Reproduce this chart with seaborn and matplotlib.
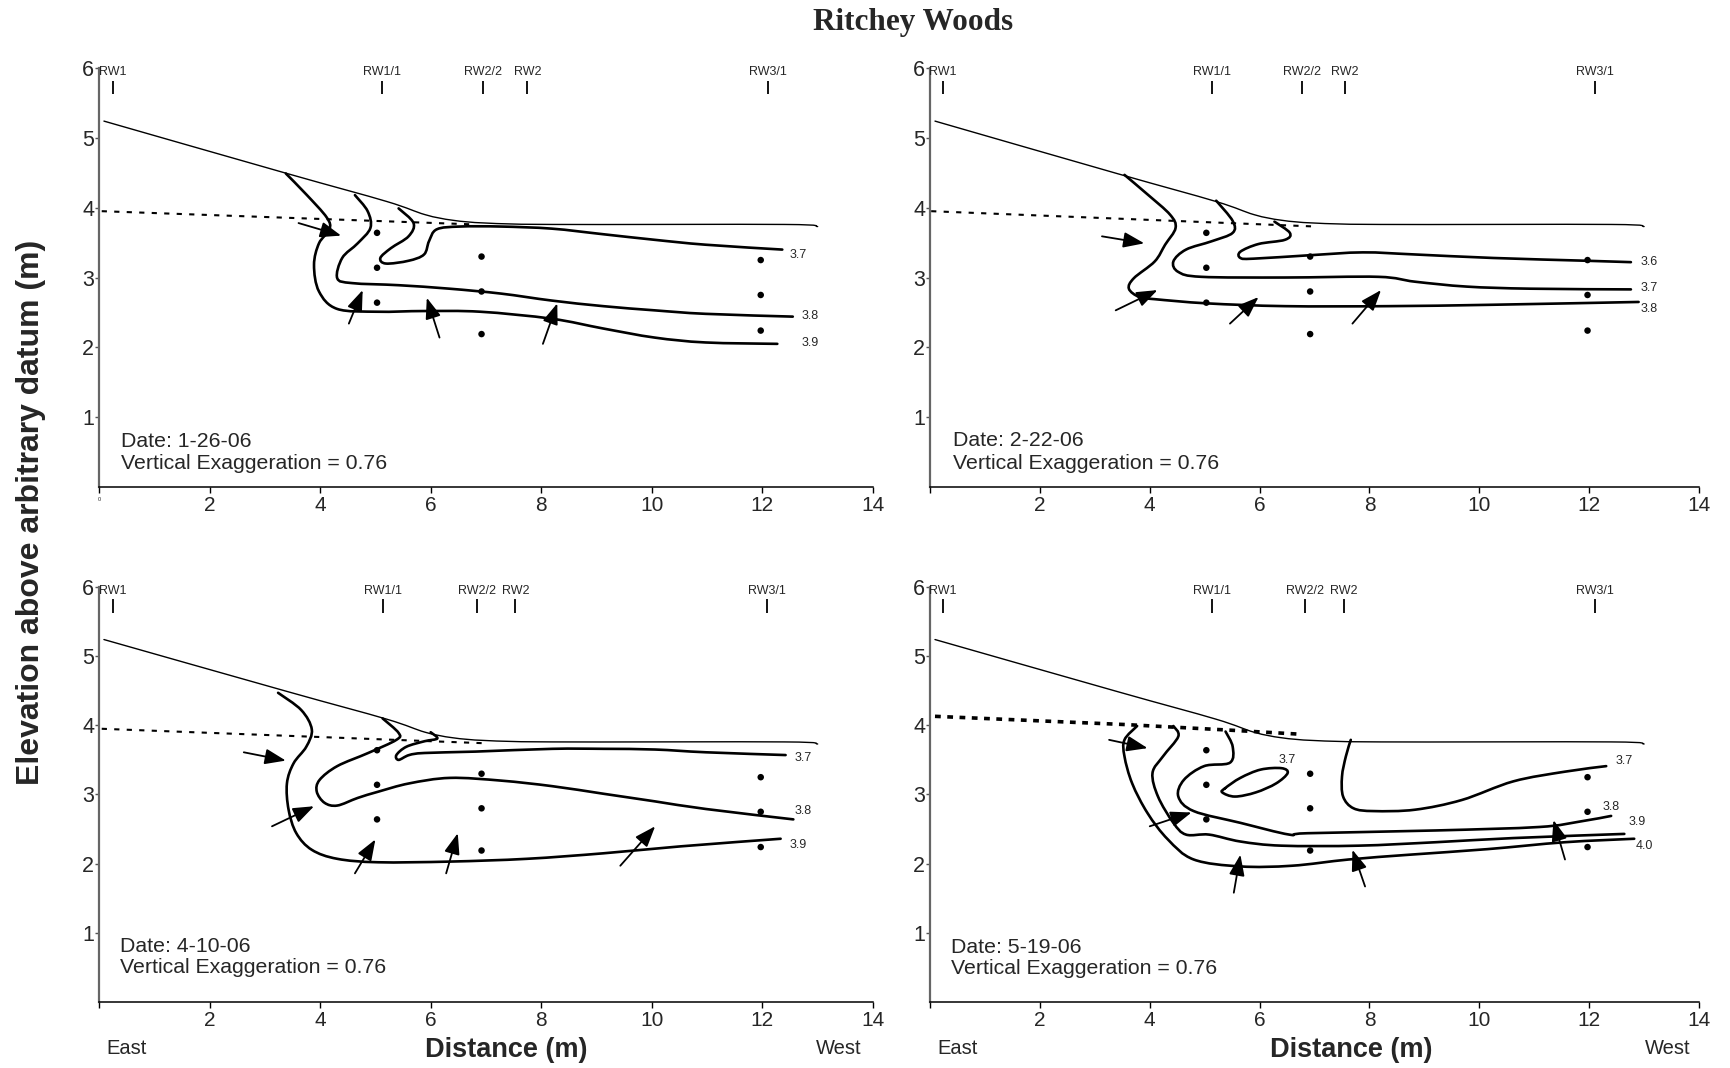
import numpy as np
import matplotlib
matplotlib.use("Agg")
import matplotlib.pyplot as plt
from matplotlib.path import Path
from matplotlib.patches import PathPatch
import seaborn as sns

# ---------------------------------------------------------------- data
# ground surface profile along the transect (m)
ground_x = [0.09, 3.40, 5.20, 5.90, 6.40, 7.00, 8.20, 12.40, 13.00]
ground_y = [5.24, 4.49, 4.09, 3.90, 3.82, 3.78, 3.76, 3.76, 3.73]

# piezometer screen positions
piezo_x = [5.03, 5.03, 5.03, 6.92, 6.92, 6.92, 11.97, 11.97, 11.97]
piezo_y = [3.64, 3.14, 2.64, 3.30, 2.80, 2.19, 3.25, 2.75, 2.24]

well_names = ["RW1", "RW1/1", "RW2/2", "RW2", "RW3/1"]

dates = ["1-26-06", "2-22-06", "4-10-06", "5-19-06"]

# well locations per survey
wells_1 = [0.25, 5.12, 6.94, 7.75, 12.10]
wells_2 = [0.23, 5.13, 6.77, 7.55, 12.11]
wells_3 = [0.25, 5.13, 6.84, 7.53, 12.09]
wells_4 = [0.23, 5.13, 6.82, 7.54, 12.10]

# water table
wt_1_x, wt_1_y = [0.05, 6.80], [3.95, 3.76]
wt_2_x, wt_2_y = [0.02, 7.03], [3.95, 3.73]
wt_3_x, wt_3_y = [0.05, 7.00], [3.95, 3.74]
wt_4_x, wt_4_y = [0.09, 3.58, 5.46, 6.77], [4.13, 4.01, 3.93, 3.87]

# equipotential lines, 1-26-06
c1_37_x = [5.42, 5.69, 5.60, 5.28, 5.09, 5.19, 5.60, 5.88, 5.97, 6.11, 6.53, 7.27, 8.19, 9.12, 10.05, 10.97, 12.36]
c1_37_y = [3.99, 3.78, 3.59, 3.42, 3.28, 3.20, 3.24, 3.33, 3.52, 3.69, 3.73, 3.73, 3.70, 3.62, 3.54, 3.47, 3.40]
c1_38_x = [4.63, 4.86, 4.91, 4.68, 4.40, 4.31, 4.58, 5.42, 6.34, 7.27, 8.19, 9.12, 10.05, 10.97, 12.55]
c1_38_y = [4.18, 3.95, 3.71, 3.49, 3.28, 2.99, 2.92, 2.89, 2.84, 2.77, 2.67, 2.59, 2.53, 2.48, 2.44]
c1_39_x = [3.38, 3.75, 4.12, 4.17, 3.98, 3.89, 3.98, 4.31, 5.05, 5.88, 6.90, 8.19, 9.12, 10.05, 10.97, 12.27]
c1_39_y = [4.49, 4.19, 3.86, 3.69, 3.49, 3.18, 2.80, 2.55, 2.51, 2.52, 2.51, 2.41, 2.27, 2.14, 2.07, 2.05]

# equipotential lines, 2-22-06
c2_36_x = [6.27, 6.55, 6.46, 5.98, 5.65, 5.65, 5.89, 6.93, 7.88, 8.83, 10.25, 11.95, 12.76]
c2_36_y = [3.80, 3.64, 3.54, 3.48, 3.37, 3.28, 3.27, 3.32, 3.36, 3.33, 3.28, 3.24, 3.22]
c2_37_x = [5.21, 5.51, 5.51, 5.13, 4.66, 4.43, 4.52, 4.94, 6.46, 8.16, 8.83, 9.77, 10.93, 12.76]
c2_37_y = [4.10, 3.81, 3.64, 3.52, 3.40, 3.23, 3.08, 3.01, 3.00, 3.01, 2.94, 2.87, 2.84, 2.83]
c2_38_x = [3.54, 3.96, 4.37, 4.47, 4.28, 4.09, 3.71, 3.62, 3.81, 4.09, 5.04, 6.46, 8.35, 10.25, 12.90]
c2_38_y = [4.47, 4.19, 3.90, 3.71, 3.47, 3.23, 2.99, 2.84, 2.72, 2.69, 2.63, 2.59, 2.59, 2.61, 2.65]

# equipotential lines, 4-10-06
c3_37_x = [6.00, 6.12, 5.89, 5.56, 5.38, 5.42, 5.61, 5.89, 6.81, 8.20, 9.13, 10.06, 10.98, 12.42]
c3_37_y = [3.90, 3.81, 3.77, 3.69, 3.57, 3.50, 3.57, 3.60, 3.62, 3.66, 3.66, 3.65, 3.61, 3.57]
c3_38_x = [5.13, 5.42, 5.38, 4.87, 4.31, 3.99, 3.94, 4.08, 4.31, 4.68, 5.05, 5.61, 6.35, 7.28, 8.20, 9.13, 10.06, 10.98, 12.56]
c3_38_y = [4.10, 3.89, 3.79, 3.60, 3.41, 3.21, 3.04, 2.88, 2.84, 2.95, 3.04, 3.16, 3.24, 3.20, 3.12, 3.01, 2.90, 2.79, 2.64]
c3_39_x = [3.24, 3.66, 3.85, 3.75, 3.52, 3.40, 3.43, 3.57, 3.85, 4.31, 5.05, 6.35, 7.74, 9.13, 10.52, 12.33]
c3_39_y = [4.47, 4.22, 3.94, 3.69, 3.45, 3.16, 2.78, 2.44, 2.20, 2.07, 2.02, 2.03, 2.07, 2.15, 2.25, 2.36]

# equipotential lines, 5-19-06
c4_37a_x = [5.37, 5.65, 6.02, 6.40, 6.51, 6.30, 5.93, 5.55, 5.32]
c4_37a_y = [3.09, 3.24, 3.36, 3.38, 3.31, 3.16, 3.03, 2.97, 3.03]
c4_37b_x = [7.66, 7.57, 7.50, 7.52, 7.71, 8.08, 8.83, 9.68, 10.62, 11.56, 12.31]
c4_37b_y = [3.79, 3.55, 3.26, 2.97, 2.80, 2.76, 2.78, 2.92, 3.19, 3.33, 3.41]
c4_38_x = [5.38, 5.51, 5.46, 4.99, 4.62, 4.52, 4.80, 5.65, 6.54, 6.87, 9.21, 11.09, 11.84, 12.40]
c4_38_y = [3.91, 3.69, 3.46, 3.41, 3.21, 2.97, 2.76, 2.59, 2.42, 2.44, 2.48, 2.53, 2.61, 2.69]
c4_39_x = [4.43, 4.52, 4.24, 4.05, 4.15, 4.43, 4.66, 5.08, 5.65, 6.40, 7.80, 9.21, 10.62, 12.64]
c4_39_y = [3.99, 3.84, 3.55, 3.31, 2.97, 2.59, 2.42, 2.42, 2.32, 2.26, 2.26, 2.31, 2.37, 2.43]
c4_40_x = [3.77, 3.54, 3.54, 3.68, 3.96, 4.33, 4.80, 5.65, 6.59, 7.62, 8.74, 10.15, 11.56, 12.82]
c4_40_y = [3.99, 3.79, 3.55, 3.16, 2.73, 2.35, 2.06, 1.96, 1.97, 2.06, 2.13, 2.21, 2.31, 2.36]

# contour value labels: (text, x, y)
labels_1 = [("3.7", 12.64, 3.32), ("3.8", 12.87, 2.45), ("3.9", 12.87, 2.06)]
labels_2 = [("3.6", 13.09, 3.22), ("3.7", 13.09, 2.85), ("3.8", 13.09, 2.55)]
labels_3 = [("3.7", 12.74, 3.53), ("3.8", 12.74, 2.76), ("3.9", 12.65, 2.27)]
labels_4 = [("3.7", 6.51, 3.50), ("3.7", 12.64, 3.49), ("3.8", 12.40, 2.82),
            ("3.9", 12.87, 2.60), ("4.0", 13.01, 2.26)]

# flow arrows: (tail x, tail y, head x, head y)
arrows_1 = [(3.61, 3.78, 4.38, 3.60), (4.52, 2.34, 4.77, 2.82),
            (6.16, 2.14, 5.93, 2.71), (8.03, 2.05, 8.29, 2.63)]
arrows_2 = [(3.13, 3.59, 3.90, 3.49), (3.38, 2.53, 4.14, 2.82),
            (5.46, 2.34, 5.98, 2.72), (7.69, 2.34, 8.21, 2.82)]
arrows_3 = [(2.62, 3.61, 3.38, 3.49), (3.13, 2.54, 3.89, 2.83),
            (4.63, 1.86, 5.00, 2.35), (6.28, 1.86, 6.49, 2.44),
            (9.43, 1.97, 10.06, 2.54)]
arrows_4 = [(3.26, 3.79, 3.96, 3.67), (4.00, 2.54, 4.76, 2.74),
            (5.53, 1.58, 5.65, 2.13), (7.92, 1.67, 7.69, 2.20),
            (11.56, 2.06, 11.35, 2.63)]

# date/caption anchor (x, y of "Date" line, y of second line)
caption_1 = (0.40, 0.58, 0.26)
caption_2 = (0.42, 0.59, 0.26)
caption_3 = (0.38, 0.72, 0.42)
caption_4 = (0.39, 0.71, 0.41)

# ---------------------------------------------------------------- style
sns.set_theme(style="ticks")
plt.rcParams["font.family"] = ["Liberation Sans", "DejaVu Sans"]

panels = [
    dict(pos=[0.0572, 0.5440, 0.4474, 0.3923], date=dates[0], wells=wells_1,
         wt=(wt_1_x, wt_1_y), wt_style=(1.5, (0, (2.5, 3.5))),
         curves=[(c1_37_x, c1_37_y, False), (c1_38_x, c1_38_y, False), (c1_39_x, c1_39_y, False)],
         labels=labels_1, arrows=arrows_1, caption=caption_1),
    dict(pos=[0.5376, 0.5440, 0.4445, 0.3923], date=dates[1], wells=wells_2,
         wt=(wt_2_x, wt_2_y), wt_style=(1.5, (0, (2.5, 3.5))),
         curves=[(c2_36_x, c2_36_y, False), (c2_37_x, c2_37_y, False), (c2_38_x, c2_38_y, False)],
         labels=labels_2, arrows=arrows_2, caption=caption_2),
    dict(pos=[0.0572, 0.0618, 0.4474, 0.3886], date=dates[2], wells=wells_3,
         wt=(wt_3_x, wt_3_y), wt_style=(1.5, (0, (2.5, 3.5))),
         curves=[(c3_37_x, c3_37_y, False), (c3_38_x, c3_38_y, False), (c3_39_x, c3_39_y, False)],
         labels=labels_3, arrows=arrows_3, caption=caption_3),
    dict(pos=[0.5376, 0.0618, 0.4445, 0.3886], date=dates[3], wells=wells_4,
         wt=(wt_4_x, wt_4_y), wt_style=(2.6, (0, (1.6, 1.8))),
         curves=[(c4_37a_x, c4_37a_y, True), (c4_37b_x, c4_37b_y, False),
                 (c4_38_x, c4_38_y, False), (c4_39_x, c4_39_y, False), (c4_40_x, c4_40_y, False)],
         labels=labels_4, arrows=arrows_4, caption=caption_4),
]


def smooth_curve(ax, xs, ys, closed=False, lw=1.9):
    """Draw a smoothed (Catmull-Rom as cubic Bezier) line through the points."""
    pts = np.column_stack([xs, ys]).astype(float)
    if closed:
        ext = np.vstack([pts[-1], pts, pts[0], pts[1]])
        nseg = len(pts)
    else:
        ext = np.vstack([pts[0], pts, pts[-1]])
        nseg = len(pts) - 1
    verts = [ext[1]]
    codes = [Path.MOVETO]
    for i in range(1, nseg + 1):
        p0, p1, p2, p3 = ext[i - 1], ext[i], ext[i + 1], ext[i + 2]
        verts += [p1 + (p2 - p0) / 6.0, p2 - (p3 - p1) / 6.0, p2]
        codes += [Path.CURVE4] * 3
    ax.add_patch(PathPatch(Path(verts, codes), fill=False, lw=lw, ec="black",
                           capstyle="round", joinstyle="round", zorder=3))


fig = plt.figure(figsize=(17.3, 10.68), dpi=100)
fig.patch.set_facecolor("white")

for i, p in enumerate(panels):
    ax = fig.add_axes(p["pos"])
    ax.set_facecolor("white")

    # ground surface
    smooth_curve(ax, ground_x, ground_y, lw=1.0)

    # water table
    lw, dash = p["wt_style"]
    sns.lineplot(x=p["wt"][0], y=p["wt"][1], ax=ax, color="black", lw=lw,
                 linestyle=dash, sort=False, estimator=None)

    # equipotentials
    for xs, ys, closed in p["curves"]:
        smooth_curve(ax, xs, ys, closed=closed)
    for txt, lx, ly in p["labels"]:
        ax.text(lx, ly, txt, fontsize=9, ha="center", va="center")

    # piezometers
    sns.scatterplot(x=piezo_x, y=piezo_y, ax=ax, color="black", s=22,
                    edgecolor="none", zorder=4)

    # flow arrows
    for tx, ty, hx, hy in p["arrows"]:
        ax.annotate("", xy=(hx, hy), xytext=(tx, ty),
                    arrowprops=dict(arrowstyle="-|>,head_length=0.75,head_width=0.28",
                                    mutation_scale=17, lw=1.3, color="black",
                                    shrinkA=0, shrinkB=0), zorder=5)

    # well markers along the top
    ax.vlines(p["wells"], 5.63, 5.82, color="black", lw=1.3)
    for name, wx in zip(well_names, p["wells"]):
        ax.text(wx, 5.94, name, fontsize=9, ha="center", va="center")

    # caption
    cx, cy1, cy2 = p["caption"]
    ax.text(cx, cy1, f"Date: {p['date']}", fontsize=15.3, ha="left", va="baseline")
    ax.text(cx, cy2, "Vertical Exaggeration = 0.76", fontsize=15.3,
            ha="left", va="baseline")

    # axes
    ax.set_xlim(0, 14)
    ax.set_ylim(0, 6)
    ax.set_xticks(range(0, 15, 2))
    ax.set_xticklabels([""] + [str(v) for v in range(2, 15, 2)])
    ax.set_yticks(range(1, 7))
    ax.set_yticklabels([str(v) for v in range(1, 7)])
    ax.tick_params(axis="x", labelsize=15, length=4, width=1.0, pad=2.5, color="black")
    ax.tick_params(axis="y", labelsize=15.5, length=3, width=1.0, pad=0.5, color="#555555")
    ax.set_xlabel("")
    ax.set_ylabel("")
    sns.despine(ax=ax)
    ax.spines["left"].set_color("#666666")
    ax.spines["left"].set_linewidth(1.6)
    ax.spines["bottom"].set_color("black")
    ax.spines["bottom"].set_linewidth(1.1)
    if i == 0:
        ax.text(0, -0.14, "0", fontsize=4, ha="center", va="top")

# figure-level text
fig.text(0.528, 0.979, "Ritchey Woods", fontsize=22.5, fontweight="bold",
         family=["Liberation Serif", "DejaVu Serif"], ha="center", va="center")
fig.text(0.018, 0.5206, "Elevation above arbitrary datum (m)", fontsize=23,
         fontweight="bold", rotation=90, ha="center", va="center")
for cx, ex, wx in [(0.2926, 0.0733, 0.485), (0.7813, 0.5536, 0.964)]:
    fig.text(cx, 0.017, "Distance (m)", fontsize=19.5, fontweight="bold",
             ha="center", va="center")
    fig.text(ex, 0.018, "East", fontsize=14.5, ha="center", va="center")
    fig.text(wx, 0.018, "West", fontsize=14.5, ha="center", va="center")

fig.savefig("out.png", dpi=100, facecolor="white")
